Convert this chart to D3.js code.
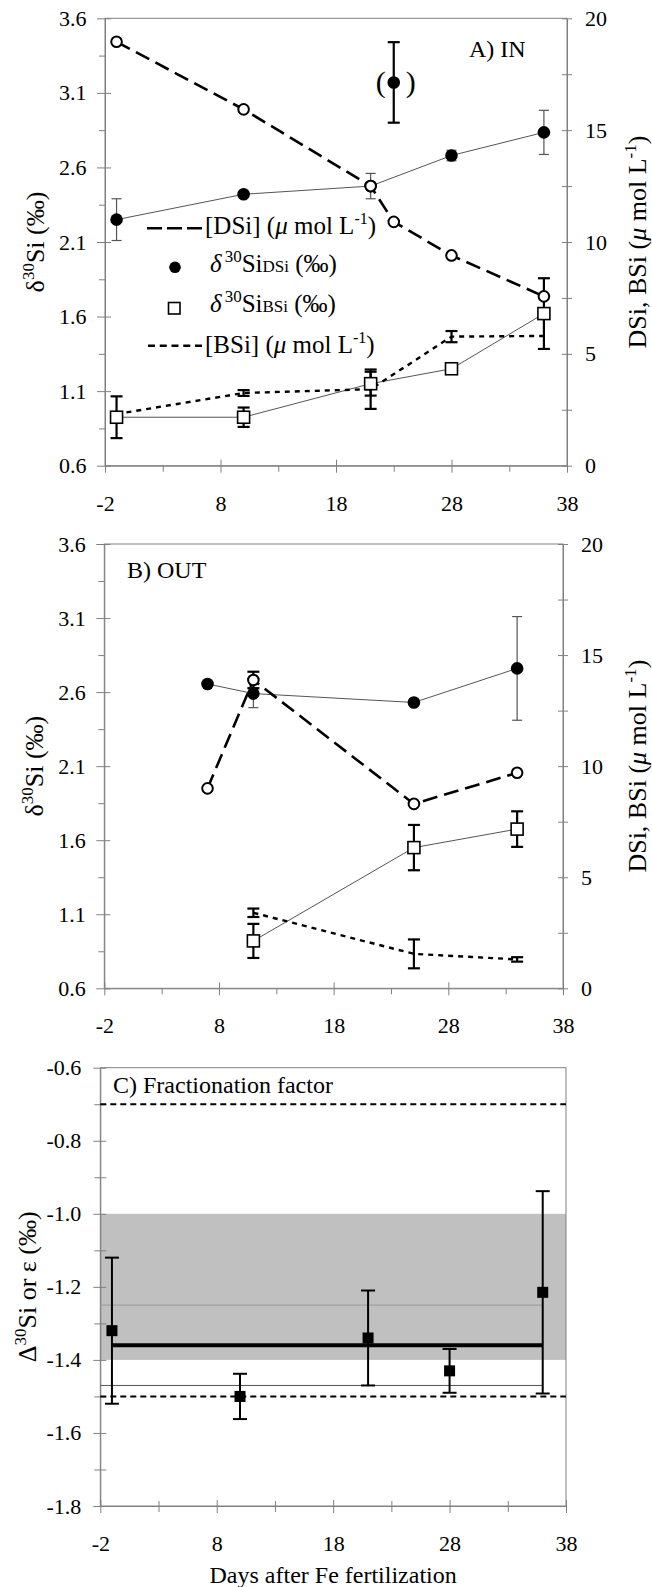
<!DOCTYPE html>
<html>
<head>
<meta charset="utf-8">
<script src="https://cdn.jsdelivr.net/npm/d3@7/dist/d3.min.js"></script>
<style>
body { margin: 0; background: #fff; }
svg { display: block; font-family: "Liberation Serif", "Times New Roman", serif; }
</style>
</head>
<body>
<div id="chart"></div>
<script>
// ---- data ----
// common axes
var xTicks = [-2, 8, 18, 28, 38];
var xMinor = [3, 13, 23, 33];
var leftTicks = [0.6, 1.1, 1.6, 2.1, 2.6, 3.1, 3.6];
var leftMinor = [0.85, 1.35, 1.85, 2.35, 2.85, 3.35];
var rightTicks = [0, 5, 10, 15, 20];
var rightMinor = [2.5, 7.5, 12.5, 17.5];
var cTicks = [-1.8, -1.6, -1.4, -1.2, -1.0, -0.8, -0.6];
var cMinor = [-1.7, -1.5, -1.3, -1.1, -0.9, -0.7];

// panel A, IN patch
var daysA = [-1, 10, 21, 28, 36];
var d30DsiA = [2.25, 2.42, 2.475, 2.68, 2.835];
var d30DsiErrA = [0.14, 0, 0.085, 0.035, 0.148];
var outlierDayA = 23, outlierA = 3.17, outlierErrA = 0.27;
var dsiDaysA = [-1, 10, 21, 23, 28, 36];
var dsiA = [18.95, 15.93, 12.5, 10.9, 9.4, 7.57];
var dsiErrA = [0, 0, 0, 0, 0, 0];
var d30BsiA = [0.925, 0.925, 1.15, 1.25, 1.62];
var d30BsiErrA = [0.14, 0.065, 0.08, 0.03, 0.237];
var bsiA = [2.31, 3.25, 3.42, 5.77, 5.8];
var bsiErrA = [0, 0.13, 0.88, 0.25, 0];

// panel B, OUT patch
var daysB = [7, 11, 25, 34];
var d30DsiB = [2.655, 2.59, 2.53, 2.76];
var d30DsiErrB = [0, 0.095, 0, 0.35];
var dsiB = [9.0, 13.88, 8.3, 9.7];
var dsiErrB = [0, 0.37, 0, 0];
var bsiDaysB = [11, 25, 34];
var d30BsiB = [0.92, 1.55, 1.675];
var d30BsiErrB = [0.115, 0.153, 0.12];
var bsiB = [3.4, 1.55, 1.3];
var bsiErrB = [0.19, 0.65, 0.1];

// panel C, fractionation factor
var daysC = [-1, 10, 21, 28, 36];
var fracC = [-1.32, -1.50, -1.34, -1.43, -1.215];
var fracErrC = [0.2, 0.062, 0.13, 0.06, 0.277];
var meanC = -1.36, meanDaysC = [-1, 36];
var bandC = [-1.4, -1.0];
var greyLineC = -1.25, darkLineC = -1.47;
var dashedC = [-0.7, -1.5];

// ---- drawing ----
var axisColor = "#808080";
var serif = "'Liberation Serif', 'Times New Roman', serif";

var svg = d3.select("#chart").append("svg")
    .attr("width", 652)
    .attr("height", 1587);

function zip(days, vals, errs) {
    return days.map(function(d, i) { return {day: d, v: vals[i], e: errs ? errs[i] : 0}; });
}

function fmt1(d) { return d.toFixed(1); }
function fmt0(d) { return String(d); }   // keep a plain hyphen for negatives

// style an axis group drawn by d3
function styleAxis(g, cross, dir) {
    g.attr("font-size", null).attr("font-family", null);
    g.select(".domain").attr("stroke", axisColor);
    g.selectAll(".tick line").attr("stroke", axisColor);
    if (cross) {
        if (dir == "left") g.selectAll(".tick line").attr("x1", cross);
        if (dir == "right") g.selectAll(".tick line").attr("x1", -cross);
        if (dir == "bottom") g.selectAll(".tick line").attr("y1", -cross);
    }
    g.selectAll(".tick text")
        .attr("fill", "#000")
        .style("font-family", serif)
        .style("font-size", "22px");
}

function minorAxis(g, axis, vals, size, cross, dir) {
    var a = g.append("g").call(axis.tickValues(vals).tickSize(size).tickFormat(""));
    a.select(".domain").remove();
    a.selectAll(".tick line").attr("stroke", axisColor);
    if (cross) {
        if (dir == "left") a.selectAll(".tick line").attr("x1", cross);
        if (dir == "right") a.selectAll(".tick line").attr("x1", -cross);
        if (dir == "bottom") a.selectAll(".tick line").attr("y1", -cross);
    }
    return a;
}

// vertical error bars with caps
function errorBars(g, data, x, y, cap, color, width) {
    var eb = g.append("g").attr("stroke", color).attr("stroke-width", width);
    data.filter(function(d) { return d.e > 0; }).forEach(function(d) {
        var cx = x(d.day), lo = y(d.v - d.e), hi = y(d.v + d.e);
        eb.append("line").attr("x1", cx).attr("x2", cx).attr("y1", lo).attr("y2", hi);
        eb.append("line").attr("x1", cx - cap).attr("x2", cx + cap).attr("y1", lo).attr("y2", lo);
        eb.append("line").attr("x1", cx - cap).attr("x2", cx + cap).attr("y1", hi).attr("y2", hi);
    });
}

// the two isotope panels (A and B)
function drawIsotopePanel(box, p) {
    var x = d3.scaleLinear().domain([-2, 38]).range([box.left, box.right]);
    var yL = d3.scaleLinear().domain([0.6, 3.6]).range([box.bottom, box.top]);
    var yR = d3.scaleLinear().domain([0, 20]).range([box.bottom, box.top]);
    var g = svg.append("g");

    // frame
    g.append("rect")
        .attr("x", box.left).attr("y", box.top)
        .attr("width", box.right - box.left).attr("height", box.bottom - box.top)
        .attr("fill", "none").attr("stroke", axisColor);

    // left axis
    var gl = g.append("g").attr("transform", "translate(" + box.left + ",0)");
    gl.call(d3.axisLeft(yL).tickValues(leftTicks).tickFormat(fmt1).tickSize(8).tickSizeOuter(0).tickPadding(10.5));
    styleAxis(gl, 6, "left");
    minorAxis(gl, d3.axisLeft(yL), leftMinor, 6, 0, "left");

    // right axis
    var gr = g.append("g").attr("transform", "translate(" + box.right + ",0)");
    gr.call(d3.axisRight(yR).tickValues(rightTicks).tickFormat(fmt0).tickSize(5).tickSizeOuter(0).tickPadding(13));
    styleAxis(gr, 5, "right");
    minorAxis(gr, d3.axisRight(yR), rightMinor, 5, 5, "right");

    // bottom axis
    var gb = g.append("g").attr("transform", "translate(0," + box.bottom + ")");
    gb.call(d3.axisBottom(x).tickValues(xTicks).tickFormat(fmt0).tickSize(7).tickSizeOuter(0).tickPadding(22.5));
    styleAxis(gb, 6, "bottom");
    minorAxis(gb, d3.axisBottom(x), xMinor, 6, 0, "bottom");

    var lineL = d3.line().x(function(d) { return x(d.day); }).y(function(d) { return yL(d.v); });
    var lineR = d3.line().x(function(d) { return x(d.day); }).y(function(d) { return yR(d.v); });

    var dsiIso = zip(p.days, p.d30Dsi, p.d30DsiErr);
    var dsiConc = zip(p.dsiDays, p.dsi, p.dsiErr);
    var bsiIso = zip(p.bsiDays, p.d30Bsi, p.d30BsiErr);
    var bsiConc = zip(p.bsiDays, p.bsi, p.bsiErr);

    // lines
    g.append("path").datum(bsiIso).attr("d", lineL)
        .attr("fill", "none").attr("stroke", "#555").attr("stroke-width", 1);
    g.append("path").datum(dsiIso).attr("d", lineL)
        .attr("fill", "none").attr("stroke", "#555").attr("stroke-width", 1);
    g.append("path").datum(bsiConc).attr("d", lineR)
        .attr("fill", "none").attr("stroke", "#000").attr("stroke-width", 2.4)
        .attr("stroke-dasharray", "5,5");
    g.append("path").datum(dsiConc).attr("d", lineR)
        .attr("fill", "none").attr("stroke", "#000").attr("stroke-width", 2.6)
        .attr("stroke-dasharray", "15,7");

    // error bars
    errorBars(g, dsiIso, x, yL, 5, "#555", 1.2);
    errorBars(g, bsiConc, x, yR, 6, "#000", 2.2);
    errorBars(g, bsiIso, x, yL, 6, "#000", 2.2);
    errorBars(g, dsiConc, x, yR, 6, "#000", 2.2);

    // markers
    g.selectAll(".fill-dot").data(dsiIso).enter().append("circle")
        .attr("class", "fill-dot")
        .attr("r", 6.3)
        .attr("cx", function(d) { return x(d.day); })
        .attr("cy", function(d) { return yL(d.v); })
        .attr("fill", "#000");
    g.selectAll(".sq").data(bsiIso).enter().append("rect")
        .attr("class", "sq")
        .attr("x", function(d) { return x(d.day) - 6; })
        .attr("y", function(d) { return yL(d.v) - 6; })
        .attr("width", 12).attr("height", 12)
        .attr("fill", "#fff").attr("stroke", "#000").attr("stroke-width", 1.6);
    g.selectAll(".open-dot").data(dsiConc).enter().append("circle")
        .attr("class", "open-dot")
        .attr("r", 5.3)
        .attr("cx", function(d) { return x(d.day); })
        .attr("cy", function(d) { return yR(d.v); })
        .attr("fill", "#fff").attr("stroke", "#000").attr("stroke-width", 2);

    // panel label
    g.append("text")
        .attr("x", box.labelX).attr("y", box.labelY)
        .style("font-size", "24px")
        .text(box.label);

    // axis titles
    var tl = g.append("text")
        .attr("transform", "translate(" + box.titleLX + "," + (box.top + box.bottom) / 2 + ") rotate(-90)")
        .attr("text-anchor", "middle")
        .style("font-size", "26px");
    tl.append("tspan").text("\u03b4");
    tl.append("tspan").attr("dy", -10).style("font-size", "17px").text("30");
    tl.append("tspan").attr("dy", 10).text("Si (\u2030)");

    var tr = g.append("text")
        .attr("transform", "translate(646," + (box.top + box.bottom) / 2 + ") rotate(-90)")
        .attr("text-anchor", "middle")
        .style("font-size", "26px");
    tr.append("tspan").text("DSi, BSi (");
    tr.append("tspan").style("font-style", "italic").text("\u03bc");
    tr.append("tspan").text(" mol L");
    tr.append("tspan").attr("dy", -10).style("font-size", "17px").text("-1");
    tr.append("tspan").attr("dy", 10).text(")");

    return {g: g, x: x, yL: yL, yR: yR};
}

// panel A
var pa = drawIsotopePanel(
    {left: 105, right: 567, top: 18.3, bottom: 465.7, label: "A) IN", labelX: 469, labelY: 57, titleLX: 44},
    {days: daysA, d30Dsi: d30DsiA, d30DsiErr: d30DsiErrA,
     dsiDays: dsiDaysA, dsi: dsiA, dsiErr: dsiErrA,
     bsiDays: daysA, d30Bsi: d30BsiA, d30BsiErr: d30BsiErrA, bsi: bsiA, bsiErr: bsiErrA});

// the bracketed outlier at day 23
var outl = [{day: outlierDayA, v: outlierA, e: outlierErrA}];
errorBars(pa.g, outl, pa.x, pa.yL, 6, "#000", 2.2);
pa.g.selectAll(".outlier").data(outl).enter().append("circle")
    .attr("class", "outlier")
    .attr("r", 6.3)
    .attr("cx", function(d) { return pa.x(d.day); })
    .attr("cy", function(d) { return pa.yL(d.v); })
    .attr("fill", "#000");
pa.g.append("text")
    .attr("x", pa.x(outlierDayA) - 13).attr("y", pa.yL(outlierA) + 10)
    .attr("text-anchor", "middle").style("font-size", "30px").text("(");
pa.g.append("text")
    .attr("x", pa.x(outlierDayA) + 17).attr("y", pa.yL(outlierA) + 10)
    .attr("text-anchor", "middle").style("font-size", "30px").text(")");

// legend in panel A
var leg = svg.append("g").style("font-size", "25px");
leg.append("line").attr("x1", 147).attr("x2", 202).attr("y1", 228.3).attr("y2", 228.3)
    .attr("stroke", "#000").attr("stroke-width", 2.6).attr("stroke-dasharray", "15,5");
leg.append("circle").attr("cx", 175).attr("cy", 267.3).attr("r", 5.8).attr("fill", "#000");
leg.append("rect").attr("x", 168.5).attr("y", 302.5).attr("width", 11.5).attr("height", 11.5)
    .attr("fill", "#fff").attr("stroke", "#000").attr("stroke-width", 1.6);
leg.append("line").attr("x1", 148).attr("x2", 202).attr("y1", 345.7).attr("y2", 345.7)
    .attr("stroke", "#000").attr("stroke-width", 2.4).attr("stroke-dasharray", "7,4.75");

function concLabel(y, name) {
    var txt = leg.append("text").attr("x", 205).attr("y", y);
    txt.append("tspan").text("[" + name + "] (");
    txt.append("tspan").style("font-style", "italic").text("\u03bc");
    txt.append("tspan").text(" mol L");
    txt.append("tspan").attr("dy", -10).style("font-size", "16px").text("-1");
    txt.append("tspan").attr("dy", 10).text(")");
}
function isoLabel(y, name) {
    var txt = leg.append("text").attr("x", 210).attr("y", y);
    txt.append("tspan").style("font-style", "italic").text("\u03b4");
    txt.append("tspan").attr("dx", 3).attr("dy", -10).style("font-size", "17px").text("30");
    txt.append("tspan").attr("dy", 10).text("Si");
    txt.append("tspan").style("font-size", "17px").text(name);
    txt.append("tspan").text(" (\u2030)");
}
concLabel(234, "DSi");
isoLabel(271.7, "DSi");
isoLabel(311.7, "BSi");
concLabel(353, "BSi");

// panel B
drawIsotopePanel(
    {left: 104.3, right: 563, top: 544, bottom: 988.3, label: "B) OUT", labelX: 127, labelY: 578, titleLX: 43},
    {days: daysB, d30Dsi: d30DsiB, d30DsiErr: d30DsiErrB,
     dsiDays: daysB, dsi: dsiB, dsiErr: dsiErrB,
     bsiDays: bsiDaysB, d30Bsi: d30BsiB, d30BsiErr: d30BsiErrB, bsi: bsiB, bsiErr: bsiErrB});

// panel C
var boxC = {left: 100.3, right: 566, top: 1067.7, bottom: 1506};
var xC = d3.scaleLinear().domain([-2, 38]).range([boxC.left, boxC.right]);
var yC = d3.scaleLinear().domain([-1.8, -0.6]).range([boxC.bottom, boxC.top]);
var gc = svg.append("g");

// grey range band
gc.append("rect")
    .attr("x", xC(-2)).attr("width", xC(38) - xC(-2))
    .attr("y", yC(bandC[1])).attr("height", yC(bandC[0]) - yC(bandC[1]))
    .attr("fill", "#c0c0c0");

gc.append("rect")
    .attr("x", boxC.left).attr("y", boxC.top)
    .attr("width", boxC.right - boxC.left).attr("height", boxC.bottom - boxC.top)
    .attr("fill", "none").attr("stroke", axisColor);

var gcl = gc.append("g").attr("transform", "translate(" + boxC.left + ",0)");
gcl.call(d3.axisLeft(yC).tickValues(cTicks).tickFormat(fmt1).tickSize(7).tickSizeOuter(0).tickPadding(12));
styleAxis(gcl, 6, "left");
minorAxis(gcl, d3.axisLeft(yC), cMinor, 6, 6, "left");

var gcb = gc.append("g").attr("transform", "translate(0," + boxC.bottom + ")");
gcb.call(d3.axisBottom(xC).tickValues(xTicks).tickFormat(fmt0).tickSize(7).tickSizeOuter(0).tickPadding(22.5));
styleAxis(gcb, 6, "bottom");
minorAxis(gcb, d3.axisBottom(xC), xMinor, 6, 5, "bottom");

// reference lines
gc.append("line")
    .attr("x1", xC(-2)).attr("x2", xC(36))
    .attr("y1", yC(greyLineC)).attr("y2", yC(greyLineC))
    .attr("stroke", "#999").attr("stroke-width", 1);
gc.append("line")
    .attr("x1", xC(-2)).attr("x2", xC(36))
    .attr("y1", yC(darkLineC)).attr("y2", yC(darkLineC))
    .attr("stroke", "#555").attr("stroke-width", 1);
gc.selectAll(".dash-ref").data(dashedC).enter().append("line")
    .attr("class", "dash-ref")
    .attr("x1", xC(-2)).attr("x2", xC(38))
    .attr("y1", function(d) { return yC(d); }).attr("y2", function(d) { return yC(d); })
    .attr("stroke", "#000").attr("stroke-width", 2).attr("stroke-dasharray", "6,4");
gc.append("line")
    .attr("x1", xC(meanDaysC[0])).attr("x2", xC(meanDaysC[1]))
    .attr("y1", yC(meanC)).attr("y2", yC(meanC))
    .attr("stroke", "#000").attr("stroke-width", 4);

var fracData = zip(daysC, fracC, fracErrC);
errorBars(gc, fracData, xC, yC, 7, "#000", 2);
gc.selectAll(".fsq").data(fracData).enter().append("rect")
    .attr("class", "fsq")
    .attr("x", function(d) { return xC(d.day) - 5.5; })
    .attr("y", function(d) { return yC(d.v) - 5.5; })
    .attr("width", 11).attr("height", 11)
    .attr("fill", "#000");

gc.append("text")
    .attr("x", 113).attr("y", 1092.7)
    .style("font-size", "24px")
    .text("C) Fractionation factor");

var tc = gc.append("text")
    .attr("transform", "translate(36," + (boxC.top + boxC.bottom) / 2 + ") rotate(-90)")
    .attr("text-anchor", "middle")
    .style("font-size", "26px");
tc.append("tspan").text("\u0394");
tc.append("tspan").attr("dy", -10).style("font-size", "17px").text("30");
tc.append("tspan").attr("dy", 10).text("Si or \u03b5 (\u2030)");

gc.append("text")
    .attr("x", (boxC.left + boxC.right) / 2).attr("y", 1583)
    .attr("text-anchor", "middle")
    .style("font-size", "24px")
    .text("Days after Fe fertilization");
</script>
</body>
</html>
